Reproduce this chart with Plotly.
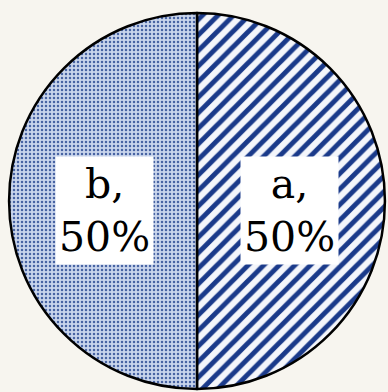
import math
import plotly.graph_objects as go

labels = ['a', 'b']
values = [50, 50]
shapes = ['/', '.']
fg_colors = ['#1a3a8a', '#4763a3']
bg_colors = ['#f4f6fb', '#c9d5ec']

W, H = 388, 392
cx, cy, r = 197, 201, 188  # pie centre (px from top-left) and radius

fig = go.Figure()

fig.add_trace(go.Pie(
    labels=labels,
    values=values,
    sort=False,
    direction='clockwise',
    rotation=0,
    textinfo='none',
    hoverinfo='label+percent',
    domain=dict(x=[(cx - r) / W, (cx + r) / W],
                y=[(H - cy - r) / H, (H - cy + r) / H]),
    marker=dict(
        colors=bg_colors,
        line=dict(color='black', width=2.5),
        pattern=dict(
            shape=shapes,
            fgcolor=fg_colors,
            bgcolor=bg_colors,
            fgopacity=1,
            size=[11, 4],
            solidity=[0.45, 0.3],
            fillmode='replace'
        )
    ),
    showlegend=False
))

# labels in white boxes, placed at each slice's mid-angle
total = sum(values)
start = 90.0
for lab, v in zip(labels, values):
    span = 360.0 * v / total
    mid = math.radians(start - span / 2)
    start -= span
    px = cx + 0.49 * r * math.cos(mid)
    py = cy - 0.49 * r * math.sin(mid) + 9
    fig.add_annotation(
        x=px / W, y=1 - py / H, xref='paper', yref='paper',
        xanchor='center', yanchor='middle',
        text=f'{lab},<br>{round(100 * v / total)}%',
        showarrow=False,
        font=dict(family='DejaVu Serif', size=41, color='black'),
        bgcolor='white',
        borderpad=3,
        align='center'
    )

fig.update_layout(
    width=W, height=H,
    margin=dict(l=0, r=0, t=0, b=0),
    paper_bgcolor='#f7f5ef',
    plot_bgcolor='#f7f5ef'
)

fig.write_html('out.html', config={'displayModeBar': False},
               post_script="document.body.style.margin='0';")
